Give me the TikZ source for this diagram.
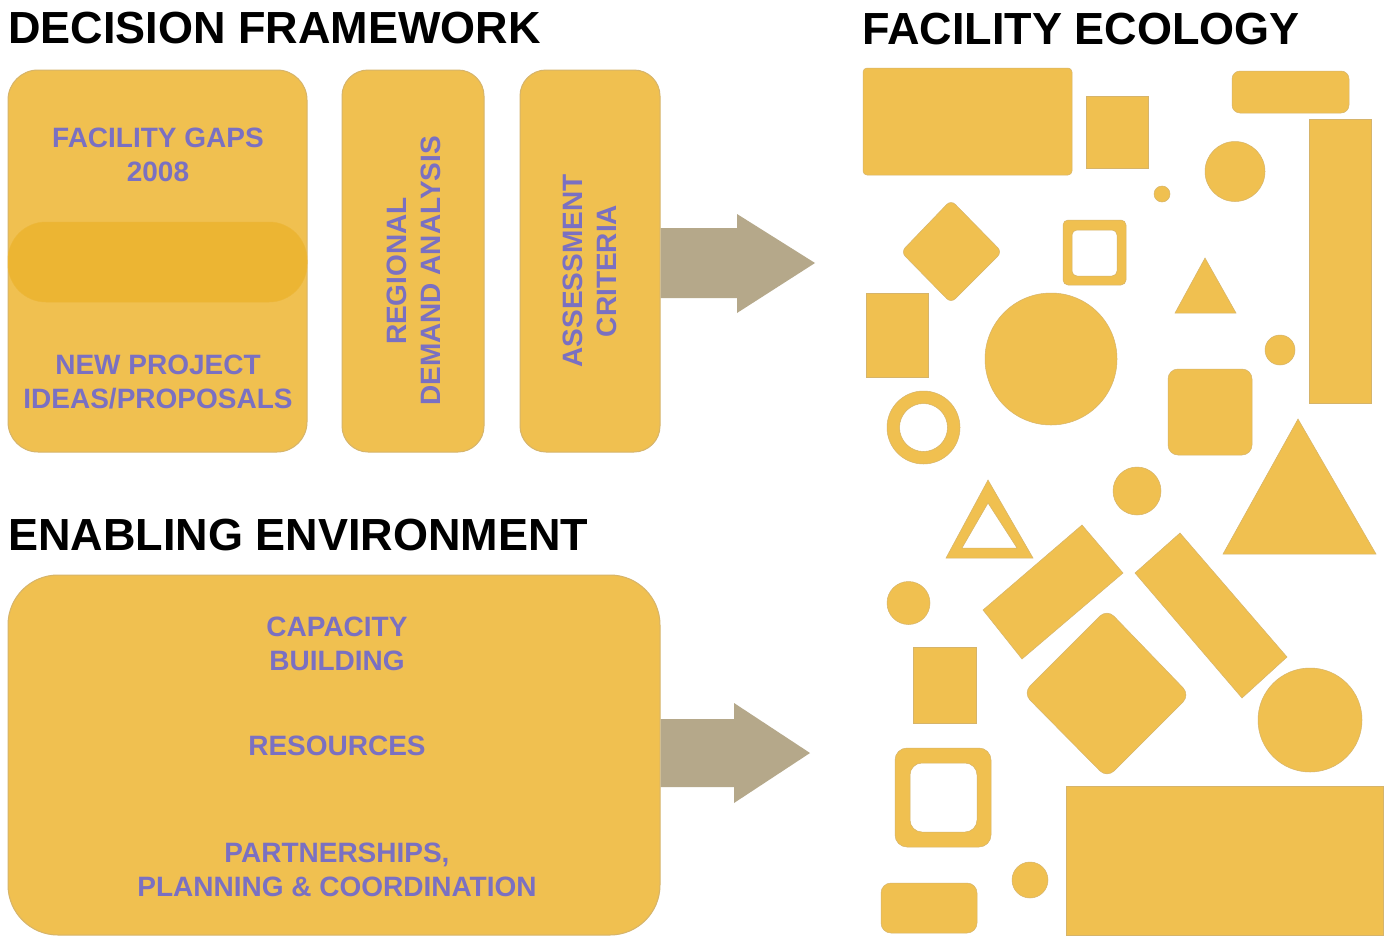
\documentclass[tikz,border=0pt]{standalone}
\usepackage{fontspec}
\setmainfont{Liberation Sans}
\usetikzlibrary{calc}
\definecolor{gold}{HTML}{F0C050}
\definecolor{goldedge}{HTML}{D6B46A}
\definecolor{band}{HTML}{ECB533}
\definecolor{arrowcol}{HTML}{B5A88A}
\definecolor{lblcol}{HTML}{7A70C2}
\begin{document}
\begin{tikzpicture}[x=1pt,y=-1pt,
  title/.style={font=\fontsize{45}{50}\selectfont\bfseries, anchor=base west, inner sep=0pt},
  panel/.style={fill=gold, draw=goldedge, line width=1pt, inner sep=0pt},
  lbl/.style={font=\fontsize{28}{34}\selectfont\bfseries, text=lblcol, align=center, inner sep=0pt},
  eco/.style={fill=gold, draw=goldedge, line width=0.5pt},
  bigarrow/.style={fill=arrowcol}]
\useasboundingbox[fill=white] (0,0) rectangle (1394,937);

% titles
\node[title] (t1) at (8,43) {DECISION FRAMEWORK};
\node[title] (t2) at (862,44) {FACILITY ECOLOGY};
\node[title] (t3) at (8,550) {ENABLING ENVIRONMENT};

% decision framework boxes
\node[panel, minimum width=299pt, minimum height=382pt, rounded corners=30pt] (gaps) at (157.5,261) {};
\node[fill=band, draw=band!80!gold, line width=0.5pt, minimum width=299pt, minimum height=80pt, rounded corners=38pt, inner sep=0pt] (bandn) at (157.5,262) {};
\node[lbl] (gapsT) at (158,155) {FACILITY GAPS\\2008};
\node[lbl] (newT) at (158,382) {NEW PROJECT\\IDEAS/PROPOSALS};

\node[panel, minimum width=142pt, minimum height=382pt, rounded corners=26pt] (reg) at (413,261) {};
\node[lbl, rotate=90] (regT) at (414,271) {REGIONAL\\DEMAND ANALYSIS};

\node[panel, minimum width=140pt, minimum height=382pt, rounded corners=26pt] (crit) at (590,261) {};
\node[lbl, rotate=90] (critT) at (589.5,271) {ASSESSMENT\\CRITERIA};

% enabling environment box
\node[panel, minimum width=652pt, minimum height=360pt, rounded corners=50pt] (env) at (334,755) {};
\node[lbl] (capT) at (337,643.5) {CAPACITY\\BUILDING};
\node[lbl] (resT) at (337,746) {RESOURCES};
\node[lbl] (parT) at (337,869.5) {PARTNERSHIPS,\\PLANNING \& COORDINATION};

% block arrows
\coordinate (tip1) at (815,263);
\fill[bigarrow] ($(crit.east |- tip1)+(0,-35)$) -- ($(tip1)+(-78,-35)$) -- ($(tip1)+(-78,-49)$) -- (tip1)
  -- ($(tip1)+(-78,50)$) -- ($(tip1)+(-78,35)$) -- ($(crit.east |- tip1)+(0,35)$) -- cycle;
\coordinate (tip2) at (810,753);
\fill[bigarrow] ($(env.east |- tip2)+(0,-34)$) -- ($(tip2)+(-76,-34)$) -- ($(tip2)+(-76,-50)$) -- (tip2)
  -- ($(tip2)+(-76,50)$) -- ($(tip2)+(-76,34)$) -- ($(env.east |- tip2)+(0,34)$) -- cycle;

% facility ecology shapes
\draw[eco, rounded corners=4pt] (863,68) rectangle (1072,175);
\draw[eco] (1086,96) rectangle (1148,168);
\draw[eco, rounded corners=8pt] (1232,71) rectangle (1349,113);
\draw[eco] (1162,194) circle (8);
\draw[eco] (1235,171.5) circle (30);
\draw[eco] (1309,119) rectangle (1371,403);
\draw[eco, rounded corners=6pt] (951,200) -- (1002,252) -- (951,303) -- (901,252) -- cycle;
\draw[eco, even odd rule, rounded corners=5pt] (1063,220) rectangle (1126,285) (1072,230) rectangle (1117,276);
\draw[eco] (1205,258) -- (1236,313) -- (1175,313) -- cycle;
\draw[eco] (866,293) rectangle (928,377);
\draw[eco] (1051,359) circle (66);
\draw[eco] (1280,350) circle (15);
\draw[eco, rounded corners=10pt] (1168,369) rectangle (1252,455);
\draw[eco, even odd rule] (923.5,427.5) circle (36.5) (923.5,427.5) circle (24);
\draw[eco] (1298,419) -- (1376,554) -- (1223,554) -- cycle;
\draw[eco] (1137,491) circle (24);
\draw[eco, even odd rule] (988,480) -- (1033,558) -- (946,558) -- cycle (988,503) -- (1017,548) -- (962,548) -- cycle;
\draw[eco] (908.5,603) circle (21.5);
\draw[eco] (983,610) -- (1082,525) -- (1123,573) -- (1022,659) -- cycle;
\draw[eco] (1135,573) -- (1180,533) -- (1287,657) -- (1242,698) -- cycle;
\draw[eco, rounded corners=10pt] (1107,609) -- (1190,695) -- (1107,778) -- (1023,693) -- cycle;
\draw[eco] (1310,720) circle (52);
\draw[eco] (913,647) rectangle (976,723);
\draw[eco, even odd rule, rounded corners=12pt] (895,748) rectangle (991,847) (910,763) rectangle (977,832);
\draw[eco] (1066,786) rectangle (1383,935);
\draw[eco] (1030,880) circle (18);
\draw[eco, rounded corners=10pt] (881,883) rectangle (977,933);
\end{tikzpicture}
\end{document}
